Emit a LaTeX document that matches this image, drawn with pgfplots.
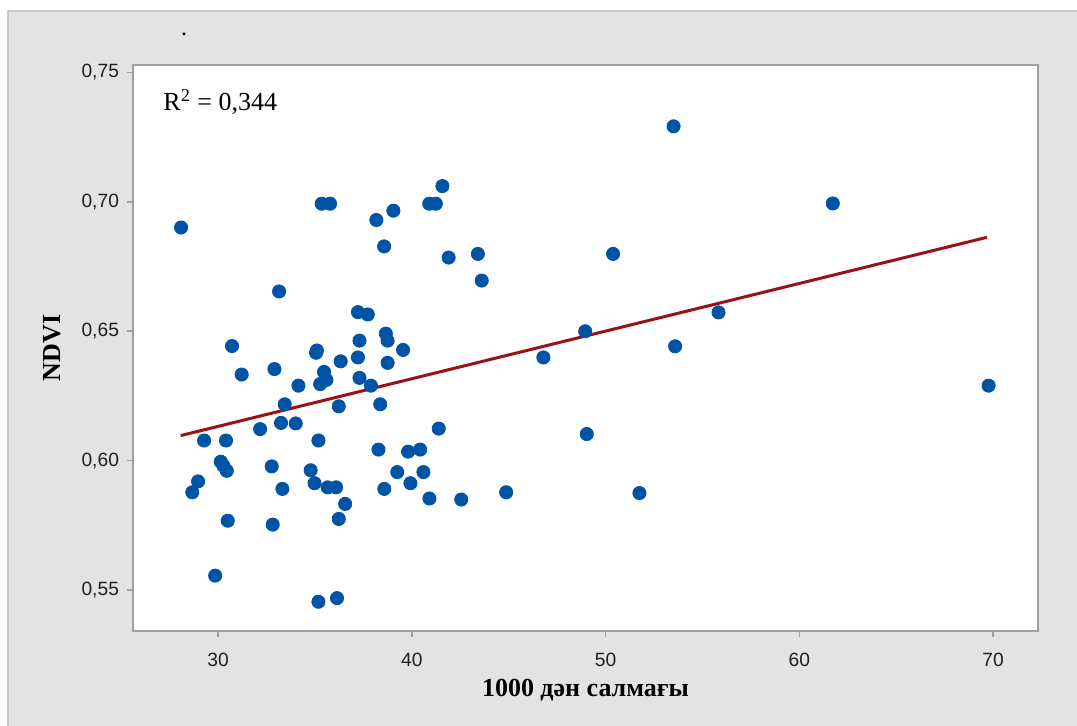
\documentclass[border=0pt]{standalone}
\usepackage{fontspec}
\setmainfont{Liberation Serif}
\newfontfamily\tickfont{Liberation Sans}
\usepackage{pgfplots}
\pgfplotsset{compat=1.18}
\definecolor{bgg}{RGB}{227,227,227}
\definecolor{bordg}{RGB}{200,200,200}
\definecolor{frameg}{RGB}{160,160,160}
\definecolor{ptblue}{RGB}{0,84,166}
\definecolor{lnred}{RGB}{155,18,18}
\begin{document}
\begin{tikzpicture}
\useasboundingbox (0pt,0pt) rectangle (538.5pt,363pt);
\fill[white] (0pt,0pt) rectangle (538.5pt,363pt);
\fill[bgg] (4pt,0pt) rectangle (538.5pt,357.5pt);
\draw[bordg, line width=0.8pt] (4pt,0pt) -- (4pt,357.5pt) -- (538.5pt,357.5pt);
\node[font=\fontsize{12}{12}\selectfont, inner sep=0pt, anchor=base] at (92pt,345pt) {.};
\begin{axis}[
  at={(66.5pt,47.5pt)}, anchor=south west,
  width=452.5pt, height=283pt, scale only axis,
  xmin=25.61, xmax=72.32, ymin=0.5342, ymax=0.7529,
  axis background/.style={fill=white},
  axis line style={frameg, line width=1pt},
  tick style={frameg, line width=0.8pt},
  tick align=outside, major tick length=3pt,
  xtick={30,40,50,60,70}, ytick={0.55,0.60,0.65,0.70,0.75},
  xtick pos=bottom, ytick pos=left,
  minor tick num=0,
  /pgf/number format/assume math mode=true,
  ticklabel style={font=\tickfont\fontsize{9.6}{10}\selectfont, text=black!88},
  yticklabel style={/pgf/number format/use comma, /pgf/number format/fixed, /pgf/number format/fixed zerofill, /pgf/number format/precision=2, xshift=-0.5pt},
  xticklabel style={/pgf/number format/fixed, /pgf/number format/precision=0, yshift=-4.5pt},
  xlabel={\fontsize{13}{15}\selectfont\bfseries 1000 дән салмағы},
  ylabel={\fontsize{13}{15}\selectfont\bfseries NDVI},
  xlabel style={at={(axis description cs:0.5,-0.104)}, anchor=center},
  ylabel style={at={(axis description cs:-0.0895,0.5)}, anchor=center, rotate=0},
  clip=false,
]
\addplot[only marks, mark=*, mark size=3.3pt, mark options={draw=ptblue, fill=ptblue}] coordinates {
(28.09,0.6901) (28.67,0.5878) (28.97,0.5920) (29.28,0.6078) (29.85,0.5556)
(30.14,0.5996) (30.27,0.5981) (30.45,0.5961) (30.41,0.6078) (30.50,0.5768)
(30.72,0.6443) (31.22,0.6333) (32.17,0.6122) (32.77,0.5978) (32.82,0.5753)
(32.91,0.6354) (33.15,0.6654) (33.25,0.6146) (33.32,0.5891) (33.44,0.6218)
(34.01,0.6144) (34.15,0.6290) (34.78,0.5963) (34.98,0.5913) (35.10,0.6426)
(35.06,0.6417) (35.18,0.6078) (35.18,0.5455) (35.35,0.6993) (35.78,0.6993)
(35.27,0.6296) (35.47,0.6343) (35.59,0.6312) (35.66,0.5897) (36.09,0.5897)
(36.14,0.5469) (36.23,0.6210) (36.23,0.5775) (36.33,0.6384) (36.56,0.5833)
(37.22,0.6574) (37.22,0.6399) (37.30,0.6320) (37.30,0.6464) (37.73,0.6565)
(37.89,0.6290) (38.17,0.6930) (38.28,0.6043) (38.37,0.6218) (38.57,0.6828)
(38.58,0.5891) (38.66,0.6491) (38.75,0.6464) (38.75,0.6378) (39.05,0.6966)
(39.25,0.5956) (39.55,0.6428) (39.81,0.6035) (39.93,0.5913) (40.43,0.6043)
(40.60,0.5956) (40.90,0.6993) (41.24,0.6993) (40.91,0.5854) (41.39,0.6124)
(41.58,0.7061) (41.90,0.6785) (42.55,0.5850) (43.41,0.6799) (43.61,0.6696)
(44.87,0.5878) (46.79,0.6399) (48.95,0.6500) (49.03,0.6103) (50.39,0.6799)
(51.75,0.5875) (53.51,0.7292) (53.59,0.6442) (55.83,0.6573) (61.73,0.6994)
(69.77,0.6290)
};
\addplot[lnred, line width=1.5pt, no marks] coordinates {(28.07,0.6097) (69.68,0.6863)};
\node[anchor=west, inner sep=0pt, font=\fontsize{13}{15}\selectfont] at (axis cs:27.16,0.7387) {R\textsuperscript{2} = 0,344};
\end{axis}
\end{tikzpicture}
\end{document}
